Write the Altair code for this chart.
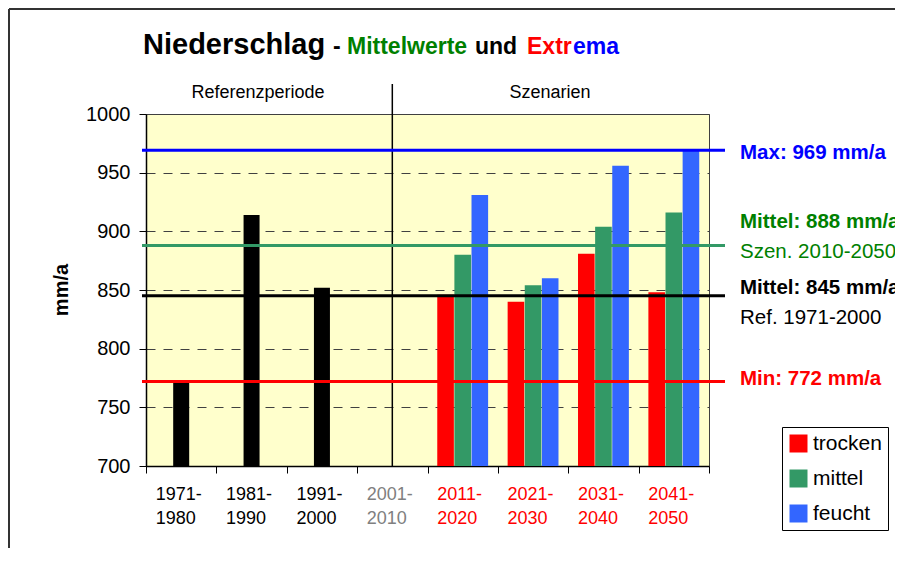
import altair as alt
import pandas as pd

FONT = "Liberation Sans"

# ---------------- data ----------------
periods = ["1971-1980", "1981-1990", "1991-2000", "2001-2010",
           "2011-2020", "2021-2030", "2031-2040", "2041-2050"]
ref_periods = ["1971-1980", "1981-1990", "1991-2000"]
ref_values = [772, 914, 852]

scen_periods = ["2011-2020", "2021-2030", "2031-2040", "2041-2050"]
series = ["trocken", "mittel", "feucht"]
trocken = [846, 840, 881, 848]
mittel = [880, 854, 904, 916]
feucht = [931, 860, 956, 969]
series_colors = ["#FF0000", "#339966", "#3366FF"]

y_ticks = [700, 750, 800, 850, 900, 950, 1000]

line_values = [969, 888, 845, 772]
line_colors = ["#0000FF", "#339966", "#000000", "#FF0000"]

ann_bold = ["Max: 969 mm/a", "Mittel: 888 mm/a", "Mittel: 845 mm/a", "Min: 772 mm/a"]
ann_bold_values = [969, 888, 845, 772]
ann_bold_colors = ["#0000FF", "#008000", "#000000", "#FF0000"]
ann_bold_dy = [3, -23, -8, -3]

ann_norm = ["Szen. 2010-2050", "Ref. 1971-2000"]
ann_norm_values = [888, 845]
ann_norm_colors = ["#008000", "#000000"]
ann_norm_dy = [7, 22]

title_words = ["Niederschlag", "-", "Mittelwerte", "und", "Extr", "ema"]
title_x = [-3, 187, 201, 329, 381, 427]
title_size = [29, 23, 23, 23, 23, 23]
title_colors = ["#000000", "#000000", "#008000", "#000000", "#FF0000", "#0000FF"]

headers = ["Referenzperiode", "Szenarien"]
header_x = [112, 404]

# ---------------- tables ----------------
ref_df = pd.DataFrame({"period": ref_periods, "value": ref_values})
scen_df = pd.DataFrame({
    "period": [p for p in scen_periods for _ in series],
    "series": series * len(scen_periods),
    "value": [v for trip in zip(trocken, mittel, feucht) for v in trip],
})
lines_df = pd.DataFrame({"value": line_values, "c": line_colors})

# ---------------- scales / axes ----------------
x_scale = alt.Scale(domain=periods, paddingInner=0, paddingOuter=0)
y_scale = alt.Scale(domain=[700, 1000], nice=False, zero=False)

x_axis = alt.Axis(
    title=None, labelAngle=0, tickBand="extent",
    labelExpr="[slice(datum.label, 0, 5), slice(datum.label, 5)]",
    labelFontSize=18, labelLineHeight=24.5, labelAlign="left", labelOffset=-26,
    labelBaseline="top", labelPadding=12, tickSize=7, tickColor="#000000",
    domainColor="#000000", domainWidth=1.5, grid=False, labelFont=FONT,
    labelColor={"condition": [
        {"test": "indexof(['1971-1980','1981-1990','1991-2000'], datum.value) >= 0", "value": "#000000"},
        {"test": "datum.value == '2001-2010'", "value": "#808080"},
    ], "value": "#FF0000"},
)
y_axis = alt.Axis(
    title=None, values=y_ticks, format="d", labelFontSize=20, labelPadding=9, tickSize=7,
    tickColor="#000000", domainColor="#000000", domainWidth=1.5, labelColor="#000000",
    grid=True, gridDash=[9, 8], gridColor="#404040", gridWidth=1, labelFont=FONT,
)


def xe(field="period"):
    return alt.X(f"{field}:N", scale=x_scale, axis=x_axis)


def ye():
    return alt.Y("value:Q", scale=y_scale, axis=y_axis)


layers = []

# reference (black) bars
layers.append(
    alt.Chart(ref_df).mark_bar(size=16, color="#000000").encode(
        x=xe(), y=ye(), y2=alt.datum(700)
    )
)

# scenario bars
layers.append(
    alt.Chart(scen_df).mark_bar().encode(
        x=xe(), y=ye(), y2=alt.datum(700),
        xOffset=alt.XOffset("series:N", scale=alt.Scale(domain=series, paddingInner=0.03, paddingOuter=0.57)),
        color=alt.Color("series:N", scale=alt.Scale(domain=series, range=series_colors),
                        legend=alt.Legend(orient="none", legendX=636, legendY=313, title=None,
                                          symbolType="square", symbolSize=324, labelFontSize=21,
                                          labelFont=FONT, padding=6, strokeColor="#000000",
                                          fillColor="#FFFFFF", rowPadding=13, labelOffset=4,
                                          symbolStrokeWidth=0, labelColor="#000000",
                                          symbolOpacity=1)),
    )
)

# divider between reference and scenarios
layers.append(
    alt.Chart(pd.DataFrame({"period": ["2001-2010"]})).mark_rule(color="#000000", strokeWidth=1.5).encode(
        x=xe(), y=alt.value(-30), y2=alt.value(352)
    )
)

# horizontal reference lines
layers.append(
    alt.Chart(lines_df).mark_rule(strokeWidth=3).encode(
        y=ye(), x=alt.value(-4), x2=alt.value(579),
        stroke=alt.Stroke("c:N", scale=None, legend=None),
    )
)

# annotations on the right
for txt, v, c, dy in zip(ann_bold, ann_bold_values, ann_bold_colors, ann_bold_dy):
    layers.append(
        alt.Chart(pd.DataFrame({"t": [txt], "value": [v]})).mark_text(
            align="left", baseline="middle", fontSize=20.5, fontWeight="bold", color=c, dy=dy, font=FONT
        ).encode(text="t:N", y=ye(), x=alt.value(594))
    )
for txt, v, c, dy in zip(ann_norm, ann_norm_values, ann_norm_colors, ann_norm_dy):
    layers.append(
        alt.Chart(pd.DataFrame({"t": [txt], "value": [v]})).mark_text(
            align="left", baseline="middle", fontSize=20.5, color=c, dy=dy, font=FONT
        ).encode(text="t:N", y=ye(), x=alt.value(594))
    )

# title (multi-coloured)
for w, x, s, c in zip(title_words, title_x, title_size, title_colors):
    layers.append(
        alt.Chart(pd.DataFrame({"t": [w]})).mark_text(
            align="left", baseline="alphabetic", fontSize=s, fontWeight="bold", color=c, font=FONT
        ).encode(text="t:N", x=alt.value(x), y=alt.value(-60))
    )

# section headers
for h, x in zip(headers, header_x):
    layers.append(
        alt.Chart(pd.DataFrame({"t": [h]})).mark_text(
            align="center", baseline="alphabetic", fontSize=18, color="#000000", font=FONT
        ).encode(text="t:N", x=alt.value(x), y=alt.value(-16))
    )

# y-axis title
layers.append(
    alt.Chart(pd.DataFrame({"t": ["mm/a"]})).mark_text(
        align="center", baseline="middle", fontSize=20, fontWeight="bold", color="#000000",
        angle=270, font=FONT
    ).encode(text="t:N", x=alt.value(-84), y=alt.value(176))
)

# outer frame (left and top edges)
layers.append(
    alt.Chart(pd.DataFrame({"t": ["frame"]})).mark_rule(color="#333333", strokeWidth=2).encode(
        x=alt.value(-137), y=alt.value(-105), y2=alt.value(460)
    )
)
layers.append(
    alt.Chart(pd.DataFrame({"t": ["frame"]})).mark_rule(color="#333333", strokeWidth=2).encode(
        x=alt.value(-137), x2=alt.value(780), y=alt.value(-105)
    )
)

chart = alt.layer(*layers).properties(
    width=563, height=352,
    autosize=alt.AutoSizeParams(type="none"),
    padding={"left": 138, "top": 106, "right": 186, "bottom": 82},
).configure(font=FONT, background="#FFFFFF").configure_view(
    fill="#FFFFCC", stroke="#404040", strokeWidth=1
)

chart.save("out.html", embed_options={"renderer": "svg", "actions": False})
